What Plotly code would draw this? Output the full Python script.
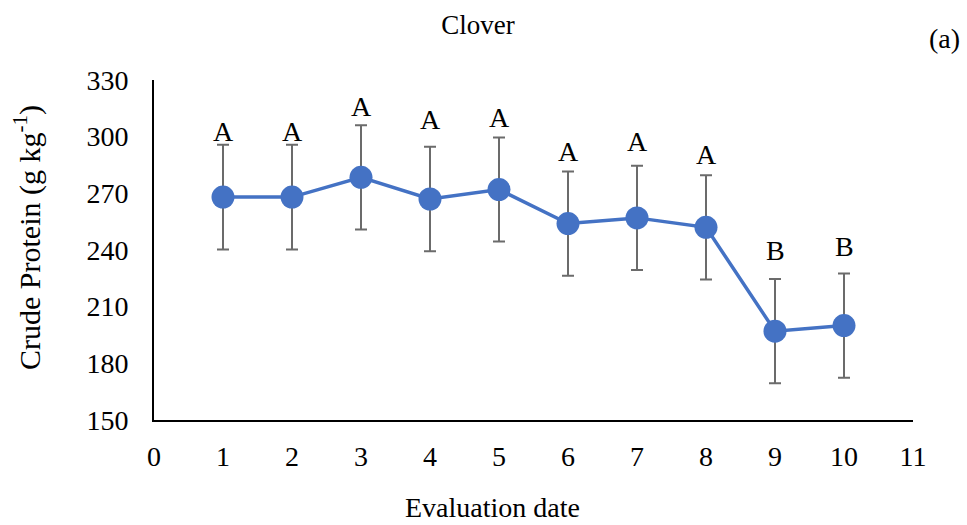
import plotly.graph_objects as go

# Crude protein of clover across evaluation dates
dates = [1, 2, 3, 4, 5, 6, 7, 8, 9, 10]
crude_protein = [268, 268, 278.5, 267, 272, 254, 257, 252, 197, 200]
std_error = [27.7, 27.7, 27.6, 27.6, 27.5, 27.6, 27.6, 27.6, 27.6, 27.6]
groups = ["A", "A", "A", "A", "A", "A", "A", "A", "B", "B"]
# height (in g kg-1) at which each mean-separation letter sits
letter_level = [302.5, 302.5, 316, 309, 310, 292.4, 297.7, 290.6, 239.5, 241.6]

x_ticks = list(range(0, 12))
y_ticks = [150, 180, 210, 240, 270, 300, 330]

FONT = "Liberation Serif, Times New Roman, serif"
FS = 28
BLUE = "#4472C4"

fig = go.Figure()
fig.add_trace(go.Scatter(
    x=dates,
    y=crude_protein,
    mode="lines+markers",
    line=dict(color=BLUE, width=3.5),
    marker=dict(color=BLUE, size=23),
    error_y=dict(type="data", array=std_error, visible=True,
                 color="#6b6b6b", thickness=2, width=6),
    showlegend=False,
    hoverinfo="x+y",
))

# Mean-separation letters, centred on their level
for xv, lv, g in zip(dates, letter_level, groups):
    fig.add_annotation(x=xv, y=lv, text=g, showarrow=False,
                       xanchor="center", yanchor="bottom", yshift=-17.5,
                       font=dict(family=FONT, size=FS, color="black"))

# Axis titles and panel label
fig.add_annotation(text="Crude Protein (g kg<sup>-1</sup>)", textangle=-90,
                   xref="paper", yref="paper", x=(27 - 154) / 759, y=(420 - 238) / 340,
                   xanchor="center", yanchor="middle", showarrow=False,
                   font=dict(family=FONT, size=30, color="black"))
fig.add_annotation(text="Evaluation date",
                   xref="paper", yref="paper", x=(492 - 154) / 759, y=-(525 - 420) / 340,
                   xanchor="center", yanchor="bottom", showarrow=False,
                   font=dict(family=FONT, size=FS, color="black"))
fig.add_annotation(text="(a)",
                   xref="paper", yref="paper", x=(945 - 154) / 759, y=(420 - 38) / 340,
                   xanchor="center", yanchor="middle", showarrow=False,
                   font=dict(family=FONT, size=FS, color="black"))

fig.update_layout(
    width=967, height=525,
    margin=dict(l=154, r=54, t=80, b=105),
    paper_bgcolor="white", plot_bgcolor="white",
    font=dict(family=FONT, size=FS, color="black"),
    title=dict(text="Clover", x=478 / 967, y=1 - 25 / 525,
               xanchor="center", yanchor="middle",
               font=dict(family=FONT, size=27, color="black")),
    xaxis=dict(range=[0, 11], tickvals=x_ticks, ticktext=[str(v) for v in x_ticks],
               showgrid=False, zeroline=False, showline=True, linecolor="black",
               linewidth=2, ticks="", ticklabelstandoff=10,
               tickfont=dict(family=FONT, size=FS, color="black")),
    yaxis=dict(range=[150, 330], tickvals=y_ticks, ticktext=[str(v) for v in y_ticks],
               showgrid=False, zeroline=False, showline=True, linecolor="black",
               linewidth=2, ticks="", ticklabelstandoff=18,
               tickfont=dict(family=FONT, size=FS, color="black")),
)

fig.write_html("out.html")
